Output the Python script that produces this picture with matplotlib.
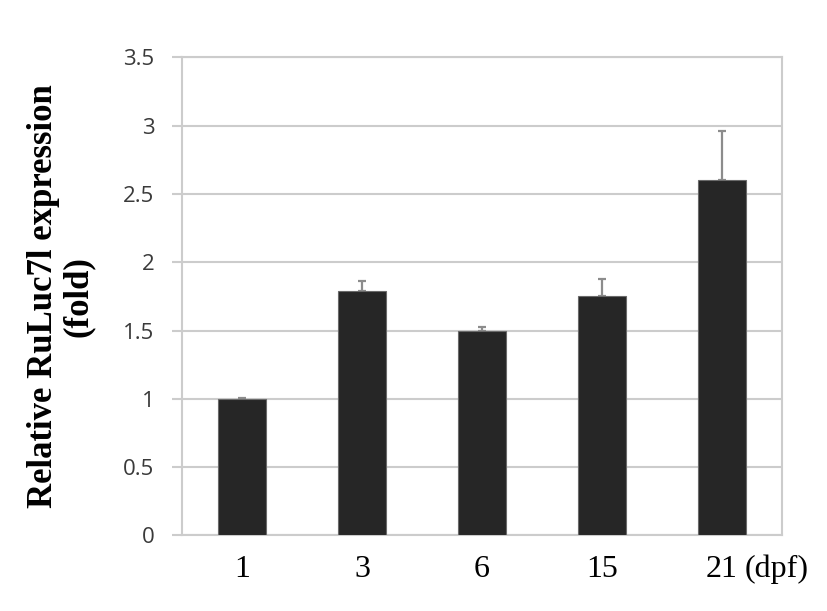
import numpy as np
import matplotlib
matplotlib.use("Agg")
import matplotlib.pyplot as plt

# days post fertilization and relative expression (fold)
days = ["1", "3", "6", "15", "21"]
unit_label = "(dpf)"
expression = [1.0, 1.79, 1.50, 1.75, 2.60]
err_upper = [0.005, 0.07, 0.025, 0.13, 0.365]
y_ticks = [0, 0.5, 1, 1.5, 2, 2.5, 3, 3.5]

fig = plt.figure(figsize=(8.27, 6.11), dpi=100)
ax = fig.add_axes([0.2201, 0.1236, 0.7255, 0.7823])

x = np.arange(len(days))
ax.bar(x, expression, width=0.4, color="#262626", edgecolor="#6a6a6a",
       linewidth=0.8, zorder=3)
ax.errorbar(x, expression, yerr=[np.zeros(len(err_upper)), err_upper],
            fmt="none", ecolor="#8c8c8c", elinewidth=1.6, capsize=3,
            capthick=1.6, zorder=2)

ax.set_xlim(-0.5, len(days) - 0.5)
ax.set_ylim(0, 3.5)
ax.set_yticks(y_ticks)
ax.set_yticklabels([f"{v:g}" for v in y_ticks], fontfamily="Open Sans",
                   fontsize=16, color="#3a3a3a")
ax.set_xticks(x)
ax.set_xticklabels(days, fontfamily="Liberation Serif", fontsize=23)
ax.tick_params(axis="y", length=7, width=1.5, color="#cccccc", pad=13)
ax.tick_params(axis="x", length=0, pad=14)

ax.grid(axis="y", color="#cccccc", linewidth=1.5, zorder=0)
ax.set_axisbelow(True)
for s in ax.spines.values():
    s.set_color("#cccccc")
    s.set_linewidth(1.5)

# unit label sits right after the last tick label
ax.annotate(unit_label, xy=(x[-1], 0), xycoords=("data", "axes fraction"),
            xytext=(16, -14), textcoords="offset points", ha="left", va="top",
            fontfamily="Liberation Serif", fontsize=23)

ax.set_ylabel("Relative RuLuc7l expression\n(fold)", fontfamily="Liberation Serif",
              fontweight="bold", fontsize=25, linespacing=1.1)
ax.yaxis.set_label_coords(-0.145, 0.5)

fig.savefig("out.png", dpi=100)
